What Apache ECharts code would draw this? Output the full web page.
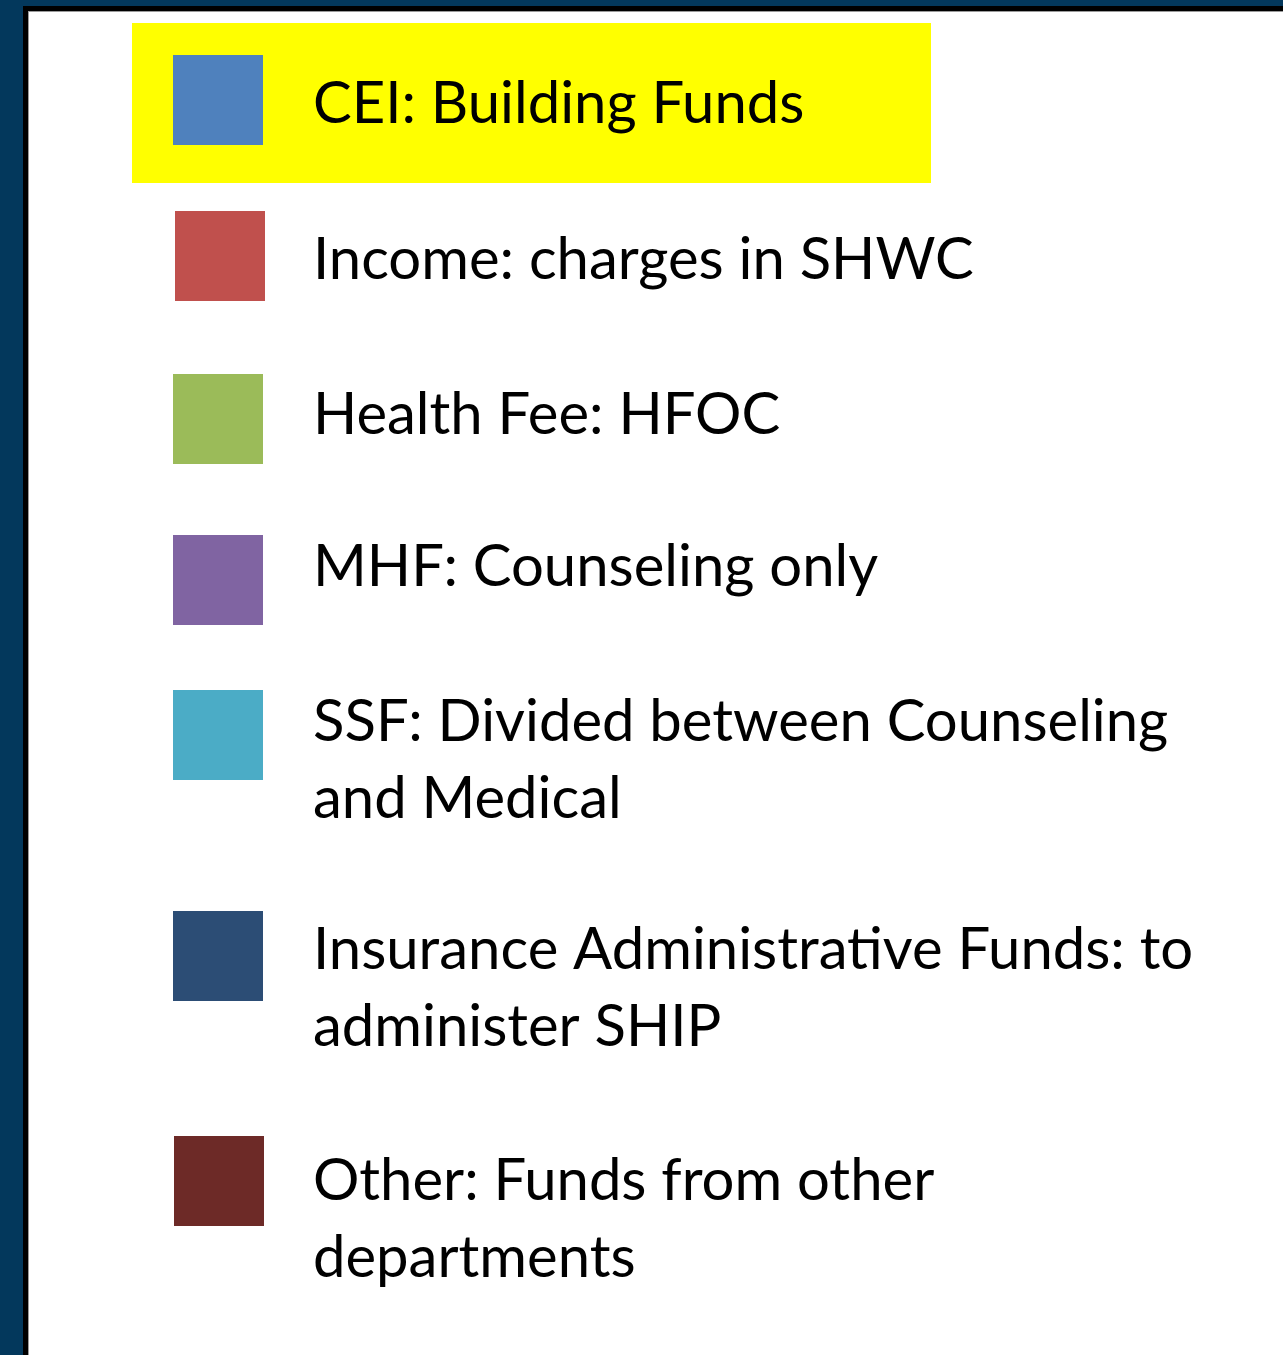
<!DOCTYPE html>
<html>
<head>
<meta charset="utf-8">
<script src="https://cdn.jsdelivr.net/npm/echarts@6/dist/echarts.min.js"></script>
<style>
html,body{margin:0;padding:0;background:#03385C;}
#chart{width:1283px;height:1355px;}
</style>
</head>
<body>
<div id="chart"></div>
<script>
// ---- data ----
const legendLabels = [
  "CEI: Building Funds",
  "Income: charges in SHWC",
  "Health Fee: HFOC",
  "MHF: Counseling only",
  "SSF: Divided between Counseling\nand Medical",
  "Insurance Administrative Funds: to\nadminister SHIP",
  "Other: Funds from other\ndepartments"
];
const legendColors = ["#4F81BD", "#C0504D", "#9BBB59", "#8064A2", "#4BACC6", "#2C4D75", "#6D2A27"];
const highlightedItems = ["CEI: Building Funds"];

// ---- layout (positions / styles) ----
const swatchTop = [55, 211, 374, 535, 690, 911, 1136];
const swatchLeft = [173, 175, 173, 173, 173, 173, 174];
const firstBaseline = [122, 278, 433, 585, 740, 968, 1199];
const SW = 90;
const FONT_SIZE = 58;
const LINE_H = 77;
const FONT_FAMILY = 'Lato, "Open Sans", sans-serif';
const TEXT_X = 313;

const chart = echarts.init(document.getElementById('chart'), null, {renderer: 'canvas'});

const elements = [];
// frame
elements.push({type: 'rect', shape: {x: 23, y: 6, width: 1300, height: 1400}, style: {fill: '#000000'}, silent: true});
elements.push({type: 'rect', shape: {x: 28, y: 11, width: 1300, height: 1400}, style: {fill: '#9a9a9a'}, silent: true});
elements.push({type: 'rect', shape: {x: 29, y: 12, width: 1300, height: 1400}, style: {fill: '#ffffff'}, silent: true});

legendLabels.forEach(function (label, i) {
  if (highlightedItems.indexOf(label) >= 0) {
    elements.push({type: 'rect', shape: {x: 132, y: swatchTop[i] - 32, width: 799, height: 160}, style: {fill: '#FFFF00'}, silent: true});
  }
  elements.push({type: 'rect', shape: {x: swatchLeft[i], y: swatchTop[i], width: SW, height: SW}, style: {fill: legendColors[i]}});
  elements.push({
    type: 'text',
    x: TEXT_X,
    y: firstBaseline[i] - LINE_H / 2 - 0.3 * FONT_SIZE,
    style: {
      text: label,
      fill: '#000000',
      font: FONT_SIZE + 'px ' + FONT_FAMILY,
      lineHeight: LINE_H,
      align: 'left',
      verticalAlign: 'top'
    }
  });
});

chart.setOption({
  backgroundColor: '#03385C',
  animation: false,
  graphic: {elements: elements}
});
</script>
</body>
</html>
